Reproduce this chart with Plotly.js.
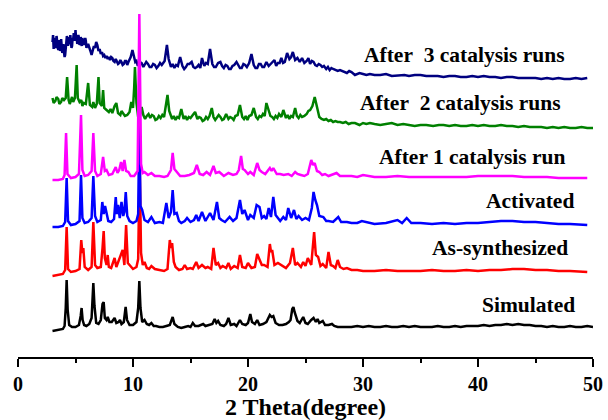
<!DOCTYPE html>
<html>
<head>
<meta charset="utf-8">
<script src="https://cdn.plot.ly/plotly-3.0.1.min.js"></script>
<style>html,body{margin:0;padding:0;background:#fff;}#chart{width:608px;height:420px;}</style>
</head>
<body>
<div id="chart"></div>
<script>
// Series names (stack order bottom -> top)
const seriesNames = ["Simulated", "As-synthesized", "Activated", "After 1 catalysis run", "After\u00a0 2 catalysis runs", "After\u00a0 3 catalysis runs"];

// Simulated pattern: 2θ and intensity (arbitrary units above its baseline)
const simX = [3.0,3.5,3.9,4.05,4.15,4.23,4.32,4.45,4.7,5.0,5.3,5.45,5.53,5.62,5.75,5.95,6.2,6.4,6.55,6.65,6.8,7.0,7.2,7.35,7.45,7.55,7.7,7.8,7.95,8.15,8.4,8.55,8.75,8.87,9.0,9.2,9.36,9.48,9.7,10.0,10.3,10.45,10.55,10.65,10.8,11.0,11.2,11.4,11.6,11.8,12.0,12.3,12.6,12.9,13.2,13.45,13.6,13.9,14.2,14.5,14.8,15.0,15.2,15.4,15.7,16.1,16.3,16.6,16.9,17.1,17.25,17.4,17.6,17.9,18.1,18.3,18.5,18.8,19.0,19.3,19.5,19.8,20.0,20.2,20.35,20.6,20.8,21.0,21.3,21.6,21.9,22.05,22.2,22.4,22.7,23.0,23.3,23.55,23.7,23.85,23.95,24.05,24.15,24.3,24.5,24.8,25.0,25.2,25.5,25.7,25.9,26.05,26.2,26.5,26.7,27.0,27.3,27.5,27.8,28.2,28.6,29.0,29.5,30.0,30.5,31,31.5,32,32.5,33,33.5,34,34.5,35,35.5,36,36.5,37,37.5,38,38.5,39,39.5,40,40.5,41,41.5,42,42.5,43,43.5,44,44.5,45,45.5,46,46.5,47,47.5,48,48.5,49,49.5,50];
const simY = [-3,-2,-1,2,20,48,18,3,1,1,3,12,20,8,3,2,4,10,45,22,5,4,8,24,26,10,8,11,6,6,10,5,6,8,4,6,21,8,3,3,6,20,47,20,6,8,4,3,5,2,2,1,1,2,3,11,4,1,0,1,2,1,5,2,2,4,2,3,4,9,5,7,3,2,4,10,3,4,2,8,4,3,5,14,6,4,8,3,4,6,13,11,12,5,3,3,4,6,8,19,21,16,13,7,5,11,5,4,8,10,6,9,5,7,3,3,4,2,1,1,1,1,2,1,2,1,1,2,1,1,2,1,2,1,1,1,2,1,1,2,1,2,2,2,3,2,3,3,4,3,4,3,3,2,2,1,2,1,1,2,1,1,2,1];

// As-synthesized
const asX = [3.0,3.5,3.9,4.1,4.23,4.35,4.6,5.0,5.35,5.5,5.6,5.68,5.8,6.1,6.4,6.55,6.7,6.9,7.2,7.35,7.45,7.55,7.7,7.8,7.9,8.1,8.4,8.55,8.7,8.9,9.1,9.25,9.4,9.55,9.7,10.0,10.3,10.45,10.58,10.7,10.85,11.0,11.2,11.4,11.6,11.9,12.3,12.7,13.0,13.2,13.3,13.4,13.55,13.7,14.0,14.3,14.5,14.7,15.0,15.2,15.5,15.7,16.0,16.3,16.5,16.8,17.0,17.2,17.4,17.6,17.8,18.1,18.3,18.5,18.8,19.1,19.3,19.5,19.8,20.0,20.3,20.6,20.8,21.0,21.2,21.4,21.7,21.9,22.0,22.1,22.3,22.6,23.0,23.3,23.65,23.9,24.1,24.3,24.6,24.8,25.0,25.2,25.5,25.75,25.9,26.1,26.3,26.5,26.8,27.0,27.2,27.4,27.6,27.8,28.0,28.3,28.6,29.0,29.5,30,31,32,33,34,35,36,37,38,39,40,41,42,43,44,45,46,47,48,49,49.5];
const asY = [-3,-2,-1,3,46,4,1,2,4,33,20,25,6,3,6,51,8,5,6,25,42,15,8,18,6,5,15,6,11,18,23,8,48,10,8,4,6,14,110,20,8,11,5,4,7,4,3,2,4,33,25,30,11,6,3,4,8,4,5,4,11,5,8,5,6,4,25,8,10,5,7,5,10,4,7,5,18,6,5,10,5,6,19,13,8,8,6,29,21,23,8,10,7,5,10,25,8,10,6,11,7,15,8,41,18,16,7,9,5,21,8,7,5,13,6,4,5,3,3,2,2,3,2,2,2,3,2,2,3,2,3,3,4,4,3,3,2,2,1,1];

// Activated
const actX = [3.0,3.5,3.9,4.1,4.23,4.35,4.6,5.0,5.35,5.48,5.6,5.8,6.1,6.4,6.55,6.7,6.9,7.2,7.33,7.45,7.57,7.7,7.85,8.1,8.35,8.5,8.6,8.7,8.85,9.0,9.15,9.25,9.37,9.5,9.7,10.0,10.3,10.45,10.55,10.65,10.8,11.0,11.3,11.6,11.9,12.3,12.6,12.9,13.1,13.3,13.45,13.6,13.8,14.0,14.2,14.5,14.7,15.0,15.3,15.5,15.7,16.0,16.3,16.7,17.0,17.3,17.5,17.7,18.0,18.4,18.7,19.0,19.3,19.5,19.7,20.0,20.2,20.5,20.75,21.0,21.2,21.4,21.6,21.8,22.0,22.2,22.4,22.6,22.8,23.07,23.3,23.5,23.75,24.0,24.2,24.4,24.7,25.0,25.3,25.55,25.7,25.85,26.0,26.2,26.55,26.8,27.0,27.4,27.85,28.1,28.6,29.0,29.5,29.9,30.5,31,32,33.0,33.4,33.8,34.2,35,36,37,38,39,40,41,42,43,44,45,46,47,48,49,49.5];
const actY = [-1,-1,0,4,48,5,1,2,5,51,8,3,4,8,50,10,4,6,24,12,20,13,5,4,7,29,12,21,8,24,10,14,34,10,5,3,5,12,104,20,16,6,4,9,3,4,3,23,8,14,36,12,13,5,3,5,8,4,6,11,5,14,5,13,6,24,8,6,4,9,5,8,26,12,16,6,11,8,21,19,8,10,7,18,9,29,11,8,5,9,6,18,8,16,7,10,6,8,6,18,34,26,21,10,9,5,5,4,9,4,4,3,3,5,3,2,3,6,3,8,3,3,2,3,2,3,3,4,5,5,4,4,3,2,2,1,1];

// After 1 catalysis run
const r1X = [3.0,3.5,3.9,4.05,4.18,4.3,4.6,5.0,5.3,5.48,5.6,5.8,6.1,6.4,6.55,6.7,6.9,7.2,7.4,7.55,7.7,7.9,8.2,8.5,8.65,8.8,8.96,9.1,9.25,9.4,9.6,9.8,10.1,10.4,10.55,10.7,10.85,11.0,11.3,11.6,11.9,12.3,12.7,13.0,13.3,13.45,13.6,13.8,14.1,14.5,14.9,15.3,15.55,15.8,16.1,16.4,16.7,17.0,17.2,17.5,17.9,18.3,18.7,19.0,19.2,19.4,19.55,19.7,20.0,20.2,20.5,20.8,21.0,21.2,21.5,21.9,22.05,22.2,22.5,22.8,23.1,23.5,23.8,24.1,24.3,24.6,24.9,25.2,25.5,25.65,25.8,26.0,26.2,26.45,26.7,27.0,27.3,27.7,28.0,28.5,29,29.5,30,31,32,33,34,35,36,37,38,39,40,41,42,43,44,45,46,47,48,49,49.5];
const r1Y = [-1,-1,0,4,46,5,1,2,5,64,9,3,4,8,46,8,3,5,22,8,9,4,5,12,6,9,17,8,19,8,7,3,3,8,165,15,6,7,4,6,3,3,2,3,9,26,10,7,3,3,4,6,14,5,4,7,4,13,6,7,3,6,4,5,9,23,10,9,5,7,4,16,9,7,5,11,8,11,5,5,4,5,3,7,5,4,3,5,19,14,16,8,7,4,5,3,4,6,3,3,3,2,4,2,2,3,2,2,2,2,2,2,3,3,3,3,2,2,2,1,1,1,1];

// After 2 catalysis runs (intensity includes amorphous background)
const r2X = [3.0,3.1,3.25,3.35,3.5,3.6,3.75,3.85,4.0,4.15,4.27,4.4,4.5,4.6,4.7,4.8,4.95,5.1,5.2,5.35,5.5,5.6,5.7,5.9,6.1,6.25,6.45,6.55,6.7,6.85,7.0,7.1,7.3,7.4,7.5,7.7,7.9,8.05,8.2,8.4,8.55,8.7,8.9,9.0,9.1,9.3,9.5,9.7,9.85,10.0,10.1,10.17,10.3,10.45,10.6,10.75,10.9,11.05,11.2,11.35,11.5,11.65,11.8,11.95,12.1,12.25,12.4,12.55,12.7,12.9,13.0,13.15,13.4,13.55,13.7,13.85,14.0,14.2,14.4,14.55,14.7,14.85,15.0,15.2,15.4,15.6,15.75,15.9,16.05,16.2,16.35,16.5,16.65,16.85,17.0,17.15,17.3,17.45,17.6,17.75,17.9,18.1,18.3,18.45,18.6,18.75,18.9,19.1,19.3,19.5,19.65,19.8,19.95,20.1,20.3,20.5,20.7,20.85,21.0,21.15,21.3,21.45,21.6,21.8,21.95,22.1,22.25,22.4,22.55,22.7,22.9,23.07,23.3,23.45,23.6,23.75,23.9,24.1,24.25,24.4,24.55,24.7,24.9,25.1,25.25,25.4,25.6,25.8,26.0,26.2,26.4,26.6,26.8,27.0,27.2,27.4,27.6,27.8,28.0,28.25,28.5,28.75,29.0,29.3,29.7,30.0,30.3,30.6,31,31.5,32,32.5,33,33.5,34,34.5,35,35.5,36.1,36.6,37,37.5,38,38.5,39,39.5,40,40.5,41,41.5,42,42.5,43,43.5,44,44.5,45,45.5,46,46.5,47,47.5,48,48.5,49,49.5,50];
const r2Y = [30,25,27,31,29,24,26,30,28,30,51,28,24,27,31,26,30,63,30,26,28,22,25,24,45,23,21,26,20,24,51,25,22,38,20,18,16,19,15,22,25,15,13,17,15,12,13,16,26,20,40,61,25,11,12,21,13,9,12,14,10,13,12,8,9,12,10,13,11,24,33,17,9,12,8,11,10,19,9,12,8,11,10,13,16,9,11,10,7,8,11,9,12,20,
  11,8,10,13,11,8,9,14,9,11,10,8,12,13,23,11,9,12,8,12,13,20,11,9,12,11,14,12,25,16,12,11,9,12,10,14,11,18,10,13,9,12,11,20,12,10,13,11,12,14,17,18,22,31,21,11,9,8,9,7,8,6,7,6,6,5,6,4,5,5,3,5,4,5,4,3,4,5,3,4,3,2,3,3,2,3,3,2,3,2,2,3,2,3,2,2,3,2,2,1,2,1,1,1,0,1,0,1,0,0,1,0,0];

// After 3 catalysis runs (intensity includes amorphous background)
const r3X = [3.0,3.05,3.1,3.15,3.2,3.25,3.3,3.35,3.4,3.45,3.5,3.55,3.6,3.65,3.7,3.75,3.8,3.85,3.9,3.95,4.0,4.05,4.1,4.15,4.2,4.25,4.3,4.35,4.4,4.45,4.5,4.55,4.6,4.65,4.7,4.75,4.8,4.85,4.9,4.95,5.0,5.05,5.1,5.15,5.2,5.25,5.3,5.35,5.4,5.45,5.5,5.55,5.6,5.65,5.7,5.75,5.8,5.85,5.9,5.95,6.0,6.1,6.2,6.3,6.4,6.5,6.6,6.7,6.8,6.9,7.0,7.1,7.2,7.3,7.4,7.5,7.6,7.7,7.8,7.9,8.0,8.1,8.2,8.3,8.4,8.5,8.6,8.7,8.8,8.9,9.0,9.1,9.2,9.3,9.4,9.5,9.6,9.7,9.8,9.95,10.1,10.2,10.3,10.4,10.5,10.6,10.75,10.9,11.0,11.15,11.3,11.45,11.6,11.75,11.9,12.05,12.2,12.35,12.5,12.75,12.95,13.1,13.3,13.45,13.6,13.75,13.9,14.1,14.3,14.45,14.6,14.75,14.9,15.1,15.25,15.4,15.55,15.7,15.85,16.0,16.2,16.35,16.5,16.7,16.9,17.05,17.2,17.4,17.6,17.75,17.9,18.05,18.2,18.35,18.5,18.65,18.8,19.0,19.15,19.3,19.45,19.6,19.75,19.9,20.1,20.3,20.5,20.65,20.8,20.95,21.1,21.25,21.4,21.6,21.8,21.95,22.1,22.3,22.45,22.6,22.75,22.9,23.05,23.2,23.4,23.6,23.75,23.9,24.1,24.3,24.5,24.7,24.9,25.1,25.25,25.4,25.55,25.7,25.85,26.0,26.15,26.3,26.45,26.6,26.8,26.95,27.1,27.25,27.4,27.6,27.8,28.0,28.2,28.4,28.6,28.8,29.0,29.3,29.7,30.0,30.3,30.6,31,31.5,32,32.5,33.2,33.6,34,34.5,35,35.5,36,36.5,37,37.5,38,38.5,39,39.5,40,40.5,41,41.5,42,42.5,43,43.5,44,44.5,45,45.5,46,46.5,47,47.5,48,48.5,49,49.5];
const r3Y = [37,44,30,41,40,31,32,43,38,30,29,39,36,28,31,40,32,26,28,35,27,22,24,31,34,43,40,33,42,35,36,44,38,31,33,41,40,46,44,38,49,40,42,35,38,44,41,34,35,42,38,33,41,36,40,34,36,41,38,31,33,
  35,30,28,24,29,33,31,37,34,28,30,25,27,23,24,21,23,20,22,19,22,21,18,17,20,18,15,16,19,17,14,15,18,18,14,17,20,22,
  29,22,17,18,14,14,17,16,12,14,
  17,15,12,12,15,14,11,13,16,14,
  18,34,20,12,15,11,14,13,22,13,
  10,12,15,15,17,12,11,12,14,11,
  21,13,16,15,30,15,12,12,16,17,
  13,11,14,13,10,10,13,14,17,14,
  11,11,15,14,12,16,25,14,11,11,
  15,15,12,12,17,13,15,16,19,13,
  16,16,21,16,17,26,20,22,27,19,
  21,17,21,16,18,21,15,18,17,14,
  13,15,14,12,13,10,12,9,11,10,
  9,8,9,8,7,6,8,7,4,6,
  5,4,5,4,4,5,3,4,4,3,
  4,4,3,3,3,2,3,3,2,2,
  3,2,3,2,2,1,2,2,1,1,
  1,1,0,1,0,1,0,0,1,0,
  1];

// Vertical stacking offsets for each pattern (bottom -> top)
const offsets = [29, 84, 131, 178, 229, 278];
const colors = ["#000000", "#ff0000", "#0000ff", "#ff00ff", "#008000", "#000080"];

const xs = [simX, asX, actX, r1X, r2X, r3X];
const ys = [simY, asY, actY, r1Y, r2Y, r3Y];

// label positions (2θ at right end of text, and stacked height)
const labelX = [48.6, 48.0, 48.5, 47.8, 47.4, 47.75];
const labelY = [52, 109, 156, 200, 254, 302];

const order = [0, 1, 2, 4, 5, 3];
const traces = order.map(i => ({
  x: xs[i],
  y: ys[i].map(v => v + offsets[i]),
  type: "scatter",
  mode: "lines",
  name: seriesNames[i],
  line: {color: colors[i], width: 2.5}
}));

const font = {family: "Liberation Serif, Times New Roman, serif", color: "#000", weight: "bold"};
const annotations = seriesNames.map((t, i) => ({
  x: labelX[i], y: labelY[i], xref: "x", yref: "y",
  text: t, showarrow: false, xanchor: "right", yanchor: "middle",
  font: Object.assign({}, font, {size: 21.5})
}));

const layout = {
  width: 608, height: 420,
  margin: {l: 18, r: 15, t: 5, b: 63},
  paper_bgcolor: "#fff", plot_bgcolor: "#fff",
  showlegend: false,
  font: font,
  xaxis: {
    range: [0, 50], dtick: 10, tick0: 0,
    showline: true, linecolor: "#000", linewidth: 2,
    ticks: "outside", ticklen: 8, tickwidth: 2, tickcolor: "#000",
    showgrid: false, zeroline: false,
    tickfont: Object.assign({}, font, {size: 20}),
    minor: {dtick: 5, ticks: "outside", ticklen: 4, tickwidth: 2, tickcolor: "#000", showgrid: false},
    title: {text: "2 Theta(degree)", font: Object.assign({}, font, {size: 24}), standoff: 2}
  },
  yaxis: {range: [0, 352], visible: false, showgrid: false, zeroline: false},
  annotations: annotations
};

Plotly.newPlot("chart", traces, layout, {displayModeBar: false, staticPlot: true});
</script>
</body>
</html>
